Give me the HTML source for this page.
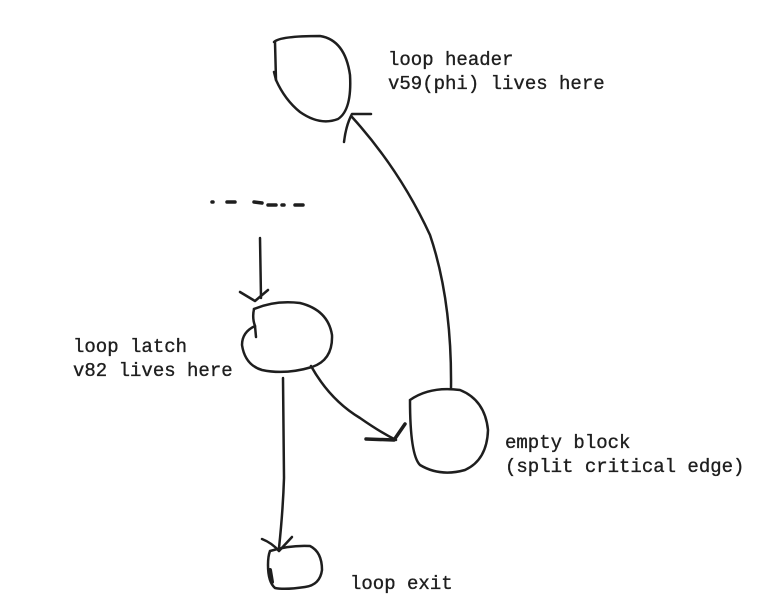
<!DOCTYPE html>
<html><head><meta charset="utf-8"><style>
html,body{margin:0;padding:0;background:#fff;}
svg{display:block}
text{font-family:"Liberation Mono",monospace;font-size:19px;fill:#1e1e1e;stroke:#1e1e1e;stroke-width:0.35}
</style></head><body>
<svg width="763" height="615" viewBox="0 0 763 615" xmlns="http://www.w3.org/2000/svg">
<g fill="none" stroke="#1e1e1e" stroke-width="2.5" stroke-linecap="round" stroke-linejoin="round">
<path d="M274 42 Q280 36 320 36 Q345 40 350 75 Q352 110 338 119 Q320 126 300 112 Q285 100 276 80 L275 42 Z"/>
<path d="M274 72 L276 80"/>
<path d="M451 388 Q452 300 430 235 Q400 170 352 117"/>
<path d="M344 142 Q346 125 352 114 L371 114" />
<path d="M212 202 L213 202 M227 202 L235 202 M254 202 L262 203 M268 205 L276 205 M282 205 L284 205 M295 205 L303 205" stroke-width="3.5"/>
<path d="M260 238 L261 298"/>
<path d="M240 292 L255 301 L268 290"/>
<path d="M254 309 Q275 300 300 303 Q328 310 332 335 Q333 360 312 367 Q285 375 262 370 Q245 365 242 345 Q242 332 255 326 L256 337"/>
<path d="M254 309 Q252 318 255 326"/>
<path d="M311 366 Q330 400 360 418 Q380 432 396 440"/>
<path d="M366 439 L394 440 L405 424" stroke-width="3.5"/>
<path d="M410 400 Q430 386 460 390 Q485 400 488 430 Q487 460 465 470 Q440 477 420 465 Q410 455 410 400"/>
<path d="M283 378 L284 478 Q283 510 279 548"/>
<path d="M262 539 Q272 543 279 551 L292 537"/>
<path d="M270 551 Q290 545 310 546 Q322 552 322 570 Q320 585 305 587 Q285 590 275 588 Q268 582 268 565 Q268 556 270 551"/>
<path d="M270 570 L272 582" stroke-width="4"/>
</g>
<text x="388" y="65">loop header</text>
<text x="388" y="89">v59(phi) lives here</text>
<text x="73" y="352">loop latch</text>
<text x="73" y="376">v82 lives here</text>
<text x="505" y="448">empty block</text>
<text x="505" y="472">(split critical edge)</text>
<text x="350" y="589">loop exit</text>
</svg>
</body></html>
